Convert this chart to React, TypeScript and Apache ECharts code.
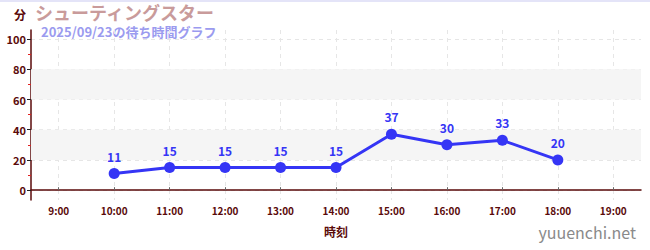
import React, { useEffect, useRef } from "react";
import * as echarts from "echarts";

const hours = [10, 11, 12, 13, 14, 15, 16, 17, 18];
const waitMinutes = [11, 15, 15, 15, 15, 37, 30, 33, 20];
const hourTicks = [9, 10, 11, 12, 13, 14, 15, 16, 17, 18, 19];
const yMajorTicks = [0, 20, 40, 60, 80, 100];
const yMinorTicks = [10, 30, 50, 70, 90];
const shadedBands = [
  [20, 40],
  [60, 80],
];

const titleText = "シューティングスター";
const subtitleText = "2025/09/23の待ち時間グラフ";
const unitText = "分";
const xAxisName = "時刻";
const siteText = "yuuenchi.net";

const FONT = '"Noto Sans CJK JP", "Noto Sans", sans-serif';
const AXIS_COLOR = "#5a0a0a";
const LINE_COLOR = "#3535f5";

export default function App() {
  const ref = useRef<HTMLDivElement>(null);

  useEffect(() => {
    document.body.style.margin = "0";
    if (!ref.current) return;
    const chart = echarts.init(ref.current, undefined, { renderer: "svg" });

    const yRange = { min: -6.5, max: 106 };

    chart.setOption({
      animation: false,
      backgroundColor: "#ffffff",
      textStyle: { fontFamily: FONT },
      grid: { left: 31, right: 9, top: 30, bottom: 50, containLabel: false },
      graphic: [
        {
          type: "line",
          shape: { x1: 0, y1: 1, x2: 650, y2: 1 },
          style: { stroke: "#e4e4f8", lineWidth: 2 },
        },
        {
          type: "text",
          left: 14,
          top: 8,
          style: { text: unitText, fill: AXIS_COLOR, font: `bold 12px ${FONT}`, lineHeight: 12 },
        },
        {
          type: "text",
          left: 35,
          top: 3,
          style: { text: titleText, fill: "#c99b9b", font: `bold 18px ${FONT}`, lineHeight: 18 },
        },
        {
          type: "text",
          left: 41,
          top: 25,
          style: { text: subtitleText, fill: "#9b9bef", font: `bold 13px ${FONT}`, lineHeight: 13 },
        },
        {
          type: "text",
          right: 14,
          top: 224,
          style: { text: siteText, fill: "#8a8a8a", font: `16px ${FONT}`, lineHeight: 16 },
        },
      ],
      xAxis: {
        type: "value",
        min: 8.5,
        max: 19.5,
        name: xAxisName,
        nameLocation: "middle",
        nameGap: 25,
        nameTextStyle: { color: AXIS_COLOR, fontWeight: "bold", fontSize: 12, fontFamily: FONT },
        axisLine: { show: true, lineStyle: { color: AXIS_COLOR, width: 1.5 } },
        axisTick: {
          show: true,
          customValues: hourTicks,
          length: 3,
          inside: true,
          lineStyle: { color: "#666666" },
        },
        axisLabel: {
          customValues: hourTicks,
          formatter: (v: number) => `${v}:00`,
          color: AXIS_COLOR,
          fontWeight: "bold",
          fontSize: 10,
          fontFamily: FONT,
          margin: 5,
        },
        splitLine: {
          show: true,
          lineStyle: { color: "#e6e6e6", type: [4, 4], width: 1 },
        },
      },
      yAxis: [
        {
          type: "value",
          ...yRange,
          axisLine: { show: true, lineStyle: { color: AXIS_COLOR, width: 1.5 } },
          axisTick: {
            show: true,
            customValues: yMajorTicks,
            length: 4,
            lineStyle: { color: "#222222" },
          },
          axisLabel: {
            customValues: yMajorTicks,
            color: AXIS_COLOR,
            fontWeight: "bold",
            fontSize: 11,
            fontFamily: FONT,
            margin: 5,
          },
          splitLine: {
            show: true,
            lineStyle: { color: "#e6e6e6", type: [4, 4], width: 1 },
          },
        },
        {
          type: "value",
          position: "left",
          ...yRange,
          axisLine: { show: false },
          axisTick: {
            show: true,
            customValues: yMinorTicks,
            length: 3,
            lineStyle: { color: "#e02020" },
          },
          axisLabel: { show: false },
          splitLine: { show: false },
        },
      ],
      series: [
        {
          type: "line",
          yAxisIndex: 0,
          data: hours.map((h, i) => [h, waitMinutes[i]]),
          symbol: "circle",
          symbolSize: 11,
          lineStyle: { color: LINE_COLOR, width: 3 },
          itemStyle: { color: LINE_COLOR },
          label: {
            show: true,
            position: "top",
            distance: 6,
            color: LINE_COLOR,
            fontWeight: "bold",
            fontSize: 12,
            fontFamily: FONT,
            formatter: (p: any) => String(p.value[1]),
          },
          markArea: {
            silent: true,
            itemStyle: { color: "#f5f5f5" },
            data: shadedBands.map(([a, b]) => [{ yAxis: a }, { yAxis: b }]),
          },
          z: 3,
        },
      ],
    });

    return () => chart.dispose();
  }, []);

  return <div ref={ref} style={{ width: 650, height: 250 }} />;
}
